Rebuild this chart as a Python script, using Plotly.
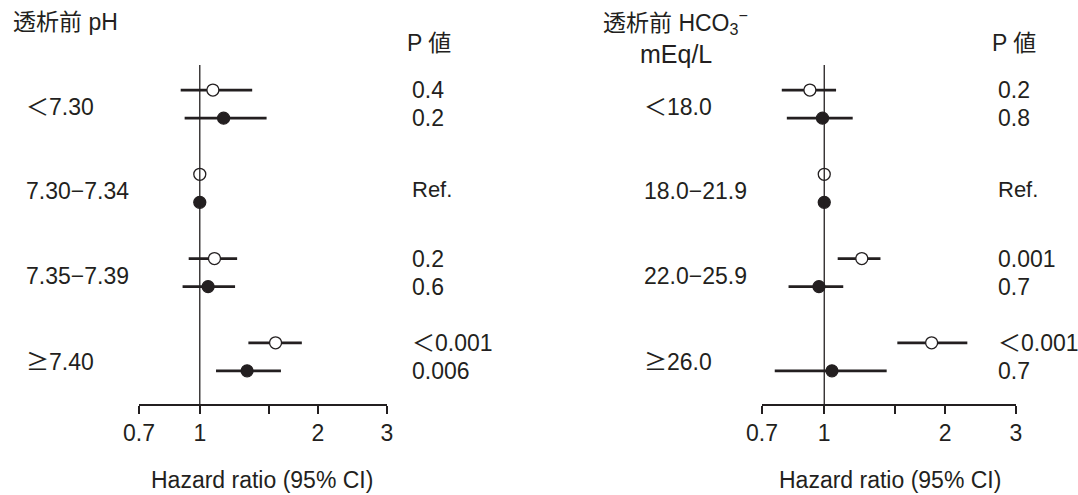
import numpy as np
import plotly.graph_objects as go

# ---------------- data ----------------
ph_labels = ["＜7.30", "7.30−7.34", "7.35−7.39",
             "<span style=\"font-family:'Noto Sans CJK JP'\">≥</span>7.40"]
ph_open_hr = [1.08, 1.00, 1.09, 1.56]
ph_open_lo = [0.894, None, 0.937, 1.33]
ph_open_hi = [1.36, None, 1.245, 1.82]
ph_fill_hr = [1.15, 1.00, 1.05, 1.32]
ph_fill_lo = [0.915, None, 0.904, 1.10]
ph_fill_hi = [1.48, None, 1.23, 1.61]
ph_p_open = ["0.4", "", "0.2", "＜0.001"]
ph_p_fill = ["0.2", "", "0.6", "0.006"]

hco_labels = ["＜18.0", "18.0−21.9", "22.0−25.9",
              "<span style=\"font-family:'Noto Sans CJK JP'\">≥</span>26.0"]
hco_open_hr = [0.921, 1.00, 1.24, 1.85]
hco_open_lo = [0.784, None, 1.08, 1.52]
hco_open_hi = [1.07, None, 1.38, 2.27]
hco_fill_hr = [0.99, 1.00, 0.97, 1.045]
hco_fill_lo = [0.807, None, 0.815, 0.753]
hco_fill_hi = [1.177, None, 1.115, 1.43]
hco_p_open = ["0.2", "", "0.001", "＜0.001"]
hco_p_fill = ["0.8", "", "0.7", "0.7"]

tick_vals = [0.7, 1, 1.5, 2, 3]
tick_text = ["0.7", "1", "", "2", "3"]

W, H = 1078, 495
FONT = "Liberation Sans, Arial, Noto Sans CJK JP, sans-serif"
TXT = "#231f20"
FS = 23

OFF = 1 / 6.0
rows = np.arange(4)
YR = [3.56, -0.464]


def px(x):
    return x / W


def py(y):
    return 1 - y / H


fig = go.Figure()

panels = [
    dict(xa="x", ya="y", xdom=[px(139), px(387)], labels=ph_labels,
         ohr=ph_open_hr, olo=ph_open_lo, ohi=ph_open_hi,
         fhr=ph_fill_hr, flo=ph_fill_lo, fhi=ph_fill_hi,
         po=ph_p_open, pf=ph_p_fill, labx=24, pvx=410, phx=405),
    dict(xa="x2", ya="y2", xdom=[px(762), px(1016)], labels=hco_labels,
         ohr=hco_open_hr, olo=hco_open_lo, ohi=hco_open_hi,
         fhr=hco_fill_hr, flo=hco_fill_lo, fhi=hco_fill_hi,
         po=hco_p_open, pf=hco_p_fill, labx=642, pvx=996, phx=990),
]

for p in panels:
    fig.add_shape(type="line", xref=p["xa"], yref=p["ya"] + " domain",
                  x0=1, x1=1, y0=0, y1=1, line=dict(color=TXT, width=1.3))
    for hr, lo, hi, sign, fillc in [
        (p["ohr"], p["olo"], p["ohi"], -1, "white"),
        (p["fhr"], p["flo"], p["fhi"], 1, TXT),
    ]:
        ys = rows + sign * OFF
        xs, yl = [], []
        for i in range(4):
            if lo[i] is not None:
                xs += [lo[i], hi[i], None]
                yl += [ys[i], ys[i], None]
        fig.add_trace(go.Scatter(x=xs, y=yl, mode="lines", xaxis=p["xa"], yaxis=p["ya"],
                                 line=dict(color=TXT, width=2.8), showlegend=False,
                                 hoverinfo="skip"))
        fig.add_trace(go.Scatter(x=hr, y=ys, mode="markers", xaxis=p["xa"], yaxis=p["ya"],
                                 marker=dict(size=12, color=fillc, symbol="circle",
                                             line=dict(color=TXT, width=1.3)),
                                 showlegend=False))
    for i, lab in enumerate(p["labels"]):
        fig.add_annotation(x=px(p["labx"]), xref="paper", xanchor="left",
                           y=i, yref=p["ya"], yanchor="middle", yshift=-3,
                           text=lab, showarrow=False,
                           font=dict(family=FONT, size=FS, color=TXT))
        if p["po"][i] == "":
            fig.add_annotation(x=px(p["pvx"]), xref="paper", xanchor="left",
                               y=i, yref=p["ya"], yanchor="middle", yshift=-1,
                               text="Ref.", showarrow=False,
                               font=dict(family=FONT, size=FS - 1, color=TXT))
        else:
            fig.add_annotation(x=px(p["pvx"]), xref="paper", xanchor="left",
                               y=i - OFF, yref=p["ya"], yanchor="middle",
                               text=p["po"][i], showarrow=False,
                               font=dict(family=FONT, size=FS, color=TXT))
            fig.add_annotation(x=px(p["pvx"]), xref="paper", xanchor="left",
                               y=i + OFF, yref=p["ya"], yanchor="middle",
                               text=p["pf"][i], showarrow=False,
                               font=dict(family=FONT, size=FS, color=TXT))
    fig.add_annotation(x=px(p["phx"]), xref="paper", xanchor="left",
                       y=py(43), yref="paper", yanchor="middle",
                       text="P 値", showarrow=False,
                       font=dict(family=FONT, size=FS, color=TXT))

fig.add_annotation(x=px(11), xref="paper", xanchor="left", y=py(22), yref="paper",
                   yanchor="middle", text="透析前 pH", showarrow=False,
                   font=dict(family=FONT, size=FS, color=TXT))
fig.add_annotation(x=px(601), xref="paper", xanchor="left", y=py(22), yref="paper",
                   yanchor="middle", text="透析前 HCO<sub>3</sub><sup>−</sup>", showarrow=False,
                   font=dict(family=FONT, size=FS, color=TXT))
fig.add_annotation(x=px(676), xref="paper", xanchor="center", y=py(54), yref="paper",
                   yanchor="middle", text="mEq/L", showarrow=False,
                   font=dict(family=FONT, size=25, color=TXT))

for cx in [262, 890]:
    fig.add_annotation(x=px(cx), xref="paper", xanchor="center", y=py(480), yref="paper",
                       yanchor="middle", text="Hazard ratio (95% CI)", showarrow=False,
                       font=dict(family=FONT, size=FS, color=TXT))

ydom = [py(404), py(65)]
xcommon = dict(type="log", range=[np.log10(0.7), np.log10(3)], tickvals=tick_vals,
               ticktext=tick_text, ticks="outside", ticklen=8, tickwidth=1.5,
               tickcolor=TXT, showline=True, linecolor=TXT, linewidth=1.5,
               showgrid=False, zeroline=False,
               tickfont=dict(family=FONT, size=FS, color=TXT))
ycommon = dict(range=YR, domain=ydom, visible=False, showgrid=False, zeroline=False)

fig.update_layout(
    width=W, height=H, margin=dict(l=0, r=0, t=0, b=0, pad=0, autoexpand=False),
    paper_bgcolor="white", plot_bgcolor="white", showlegend=False,
    xaxis=dict(xcommon, domain=panels[0]["xdom"], anchor="y"),
    yaxis=dict(ycommon, anchor="x"),
    xaxis2=dict(xcommon, domain=panels[1]["xdom"], anchor="y2"),
    yaxis2=dict(ycommon, anchor="x2"),
)

fig.write_html("out.html", config={"displayModeBar": False},
               post_script="document.body.style.margin='0';")
